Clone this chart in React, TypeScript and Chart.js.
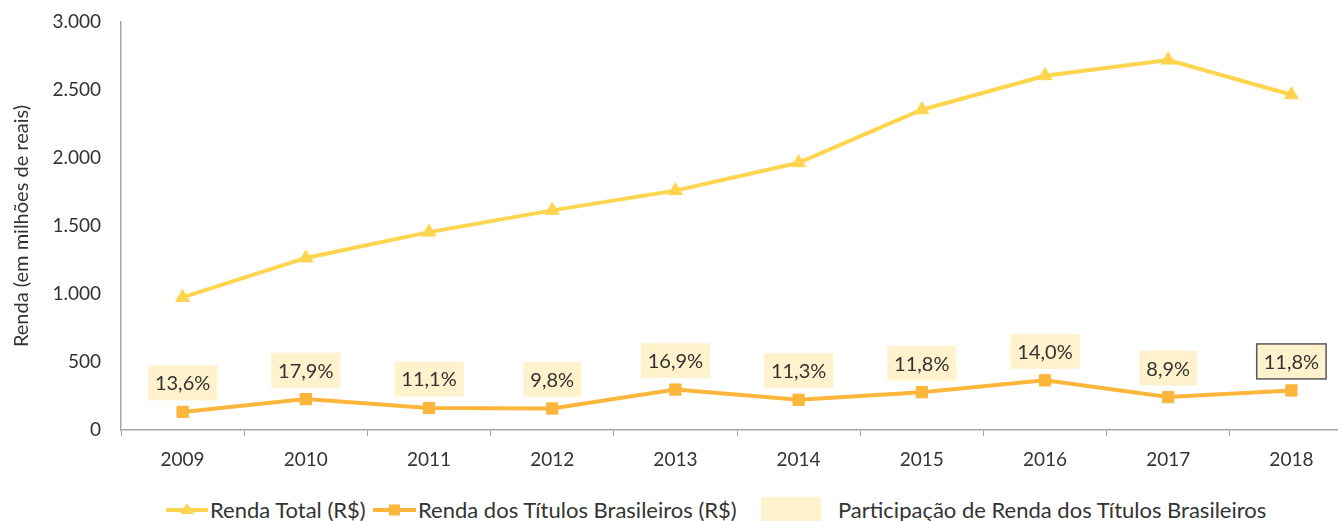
import React, { useEffect, useRef } from "react";
import { Chart, registerables } from "chart.js";

Chart.register(...registerables);

const years = ["2009", "2010", "2011", "2012", "2013", "2014", "2015", "2016", "2017", "2018"];
const rendaTotal = [975, 1265, 1455, 1615, 1760, 1965, 2355, 2605, 2720, 2465];
const rendaTitulos = [133, 227, 162, 158, 297, 222, 278, 365, 242, 291];
const participacao = ["13,6%", "17,9%", "11,1%", "9,8%", "16,9%", "11,3%", "11,8%", "14,0%", "8,9%", "11,8%"];
const yTickLabels = ["0", "500", "1.000", "1.500", "2.000", "2.500", "3.000"];

const YELLOW = "#FFD54F";
const ORANGE = "#FDB63C";
const CREAM = "#FFF2CC";
const TEXT = "#333333";
const AXIS = "#A6A6A6";
const FONT = "Lato, 'Open Sans', sans-serif";

const labelPlugin = {
  id: "participacaoLabels",
  afterDatasetsDraw(chart: any) {
    const ctx = chart.ctx;
    const meta = chart.getDatasetMeta(1);
    ctx.save();
    ctx.font = `20px ${FONT}`;
    ctx.textAlign = "center";
    ctx.textBaseline = "middle";
    meta.data.forEach((pt: any, i: number) => {
      const txt = participacao[i];
      const w = ctx.measureText(txt).width + 14;
      const h = 35;
      const cx = pt.x;
      const cy = pt.y - 29;
      ctx.fillStyle = CREAM;
      ctx.fillRect(cx - w / 2, cy - h / 2, w, h);
      if (i === participacao.length - 1) {
        ctx.strokeStyle = "#595959";
        ctx.lineWidth = 1.5;
        ctx.strokeRect(cx - w / 2, cy - h / 2, w, h);
      }
      ctx.fillStyle = TEXT;
      ctx.fillText(txt, cx, cy + 1);
    });
    ctx.restore();
  },
};

export default function App() {
  const ref = useRef<HTMLCanvasElement | null>(null);

  useEffect(() => {
    if (!ref.current) return;
    const chart = new Chart(ref.current, {
      type: "line",
      data: {
        labels: years,
        datasets: [
          {
            label: "Renda Total (R$)",
            data: rendaTotal,
            borderColor: YELLOW,
            backgroundColor: YELLOW,
            borderWidth: 4,
            pointStyle: "triangle",
            pointRadius: 8,
            pointBorderWidth: 1,
            pointBackgroundColor: YELLOW,
            pointBorderColor: YELLOW,
            tension: 0,
          },
          {
            label: "Renda dos Títulos Brasileiros (R$)",
            data: rendaTitulos,
            borderColor: ORANGE,
            backgroundColor: ORANGE,
            borderWidth: 4,
            pointStyle: "rect",
            pointRadius: 8,
            pointBorderWidth: 1,
            pointBackgroundColor: ORANGE,
            pointBorderColor: ORANGE,
            tension: 0,
          },
        ],
      },
      options: {
        animation: false,
        responsive: false,
        maintainAspectRatio: false,
        layout: { padding: { top: 22, right: 0, left: 0, bottom: 0 } },
        plugins: {
          legend: { display: false },
          tooltip: { enabled: false },
        },
        scales: {
          x: {
            type: "category",
            offset: true,
            grid: {
              display: true,
              offset: true,
              drawOnChartArea: false,
              drawTicks: true,
              tickLength: 6,
              color: AXIS,
            },
            border: { display: true, color: AXIS, width: 1.5 },
            ticks: {
              color: TEXT,
              font: { family: FONT, size: 19 },
              padding: 12,
              maxRotation: 0,
            },
            afterFit: (s: any) => {
              s.height = 50;
            },
          },
          y: {
            min: 0,
            max: 3000,
            grid: { display: false, drawTicks: false },
            border: { display: true, color: AXIS, width: 1.5 },
            ticks: {
              stepSize: 500,
              color: TEXT,
              font: { family: FONT, size: 19 },
              padding: 20,
              callback: (v: any) => yTickLabels[Math.round(Number(v) / 500)],
            },
            title: {
              display: true,
              text: "Renda (em milhões de reais)",
              color: TEXT,
              font: { family: FONT, size: 20 },
              padding: { top: 10, bottom: 0 },
            },
            afterFit: (s: any) => {
              s.width = 121;
              s.paddingTop = 0;
              s.paddingBottom = 0;
            },
          },
        },
      },
      plugins: [labelPlugin],
    });
    return () => chart.destroy();
  }, []);

  const legendText: React.CSSProperties = {
    position: "absolute",
    top: 496,
    fontFamily: FONT,
    fontSize: 22,
    color: TEXT,
    whiteSpace: "nowrap",
    lineHeight: "28px",
  };

  return (
    <div
      style={{
        position: "absolute",
        left: 0,
        top: 0,
        width: 1338,
        height: 521,
        overflow: "hidden",
        background: "#fff",
      }}
    >
      <canvas ref={ref} width={1362} height={480} style={{ position: "absolute", left: 0, top: 0 }} />
      <svg style={{ position: "absolute", left: 166, top: 500 }} width={42} height={20}>
        <line x1={0} y1={10} x2={42} y2={10} stroke={YELLOW} strokeWidth={4} />
        <polygon points="21,3 28,14 14,14" fill={YELLOW} />
      </svg>
      <span style={{ ...legendText, left: 210 }}>Renda Total (R$)</span>
      <svg style={{ position: "absolute", left: 373, top: 500 }} width={43} height={20}>
        <line x1={0} y1={10} x2={43} y2={10} stroke={ORANGE} strokeWidth={4} />
        <rect x={16} y={4.5} width={11} height={11} fill={ORANGE} />
      </svg>
      <span style={{ ...legendText, left: 418 }}>Renda dos Títulos Brasileiros (R$)</span>
      <div style={{ position: "absolute", left: 761, top: 497, width: 60, height: 30, background: CREAM }} />
      <span style={{ ...legendText, left: 838 }}>Participação de Renda dos Títulos Brasileiros</span>
    </div>
  );
}
